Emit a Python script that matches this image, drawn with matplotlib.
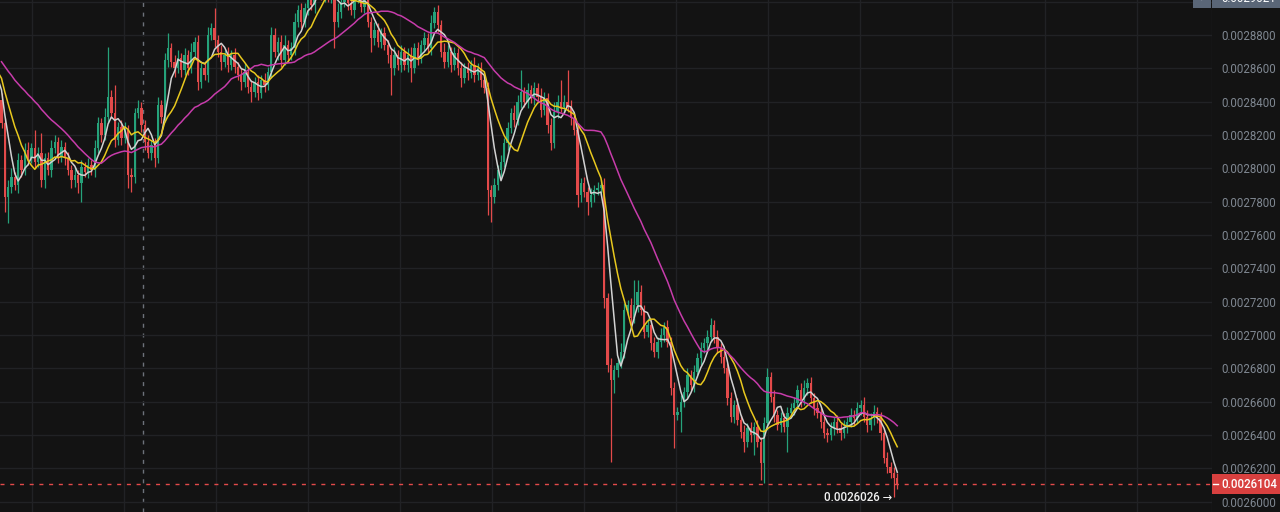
import numpy as np
import pandas as pd
import matplotlib
matplotlib.use("Agg")
import matplotlib.pyplot as plt
from matplotlib.patches import Rectangle
from matplotlib.lines import Line2D
from matplotlib.transforms import blended_transform_factory

plt.rcParams['font.family'] = ['Roboto', 'DejaVu Sans']

# All prices are listed in units of 0.0000001
UNIT = 1e-7

# closes before the first visible candle (only feed the moving averages)
prior_closes = [
    28680, 28740, 28700, 28760, 28720, 28660, 28700, 28750, 28690, 28720,
    28680, 28740, 28700, 28660, 28720, 28650, 28600, 28660, 28640, 28620,
    28650, 28600, 28640, 28580, 28580, 28580, 28520, 28570, 28410,
]

closes = [
    28270, 27830, 27890, 27950, 27900, 28050, 27990, 28110, 28060, 28120,
    28040, 28090, 27930, 28060, 27990, 28120, 28160, 28070, 28130, 28060,
    27990, 27930, 27960, 27910, 28010, 27980, 28020, 27990, 28120, 28270,
    28200, 28310, 28430, 28330, 28170, 28250, 28180, 28230, 27960, 27950,
    28330, 28360, 28260, 28160, 28090, 28140, 28060, 28380, 28310, 28650,
    28720, 28640, 28600, 28660, 28590, 28680, 28600, 28700, 28760, 28520,
    28600, 28560, 28800, 28840, 28770, 28700, 28640, 28680, 28620, 28680,
    28610, 28560, 28520, 28580, 28490, 28460, 28520, 28450, 28530, 28500,
    28580, 28800, 28700, 28760, 28650, 28740, 28680, 28720, 28880, 28950,
    28880, 28960, 29050, 28980, 29090, 29140, 29040, 29110, 29030, 29080,
    28880, 28940, 29000, 29060, 28990, 28950, 29030, 29060, 28970, 29010,
    28880, 28780, 28830, 28760, 28810, 28740, 28680, 28600, 28680, 28620,
    28700, 28620, 28680, 28600, 28720, 28660, 28740, 28780, 28720, 28870,
    28940, 28860, 28700, 28640, 28700, 28620, 28690, 28600, 28540, 28600,
    28570, 28620, 28560, 28600, 28530, 28480, 27870, 27830, 27900, 27990,
    28040, 28150, 28240, 28330, 28290, 28400, 28460, 28400, 28470, 28420,
    28480, 28430, 28350, 28420, 28260, 28150, 28340, 28400, 28370, 28400,
    28370, 28300, 28230, 27840, 27910, 27860, 27800, 27840, 27870, 27880,
    27900, 27220, 26820, 26730, 26790, 26830, 26900, 27150, 27180, 27100,
    27180, 27260, 27150, 27020, 27060, 26950, 26900, 26960, 27000, 27050,
    26960, 26680, 26520, 26540, 26600, 26660, 26760, 26700, 26780, 26860,
    26920, 26950, 26990, 27060, 26990, 26920, 26870, 26800, 26620, 26510,
    26580, 26490, 26420, 26360, 26440, 26400, 26450, 26360, 26230, 26470,
    26750, 26630, 26520, 26460, 26500, 26450, 26530, 26560, 26590, 26670,
    26610, 26680, 26710, 26620, 26560, 26530, 26480, 26410, 26400, 26440,
    26480, 26440, 26410, 26450, 26480, 26520, 26500, 26560, 26580, 26510,
    26460, 26500, 26540, 26500, 26410, 26260, 26210, 26170, 26140, 26104,
]

# wick length above / below each candle body
upper_wicks = [
    40, 30, 40, 50, 30, 40, 30, 40, 50, 30,
    110, 40, 120, 30, 40, 50, 40, 30, 40, 30,
    40, 30, 50, 30, 40, 30, 40, 30, 50, 40,
    30, 50, 300, 40, 170, 30, 40, 50, 30, 40,
    30, 50, 40, 30, 40, 30, 40, 50, 30, 40,
    90, 30, 40, 50, 30, 40, 30, 50, 30, 40,
    30, 40, 50, 30, 120, 30, 40, 30, 50, 30,
    40, 30, 40, 50, 30, 40, 30, 40, 30, 40,
    30, 50, 40, 30, 40, 60, 30, 40, 50, 30,
    40, 30, 50, 40, 30, 50, 40, 30, 40, 30,
    40, 50, 30, 40, 30, 50, 40, 30, 40, 30,
    40, 30, 50, 40, 30, 40, 30, 40, 50, 30,
    40, 30, 40, 50, 30, 40, 30, 40, 30, 50,
    30, 40, 30, 50, 40, 30, 40, 30, 40, 30,
    40, 30, 50, 30, 40, 30, 40, 30, 40, 30,
    40, 30, 40, 30, 50, 40, 130, 30, 40, 30,
    40, 30, 50, 40, 30, 40, 60, 40, 130, 40,
    190, 40, 30, 40, 30, 40, 30, 40, 30, 40,
    30, 40, 30, 40, 30, 40, 50, 40, 30, 40,
    150, 70, 40, 30, 40, 30, 40, 30, 40, 30,
    40, 30, 40, 30, 40, 30, 40, 30, 40, 30,
    40, 30, 40, 40, 30, 40, 30, 40, 30, 40,
    30, 40, 30, 40, 30, 40, 30, 40, 30, 40,
    50, 30, 40, 30, 40, 30, 40, 30, 40, 30,
    40, 50, 30, 40, 30, 40, 30, 40, 30, 40,
    30, 40, 30, 40, 30, 40, 30, 40, 30, 50,
    40, 30, 40, 30, 40, 30, 40, 30, 40, 30,
]
lower_wicks = [
    30, 90, 160, 40, 30, 50, 40, 30, 40, 30,
    40, 30, 40, 50, 30, 40, 30, 40, 30, 40,
    30, 50, 40, 60, 110, 30, 40, 30, 40, 30,
    40, 30, 40, 30, 40, 30, 40, 30, 80, 90,
    40, 30, 40, 50, 30, 40, 50, 30, 40, 30,
    40, 30, 50, 30, 40, 30, 40, 30, 40, 50,
    40, 30, 40, 30, 40, 30, 50, 30, 40, 30,
    40, 30, 50, 30, 40, 60, 30, 40, 30, 40,
    30, 40, 30, 50, 40, 30, 40, 30, 40, 30,
    40, 30, 40, 30, 50, 40, 30, 40, 30, 40,
    160, 30, 40, 30, 40, 30, 50, 40, 30, 40,
    30, 80, 40, 30, 40, 30, 50, 160, 40, 30,
    40, 30, 40, 80, 30, 40, 30, 40, 30, 40,
    30, 40, 30, 40, 30, 40, 30, 40, 50, 30,
    40, 30, 40, 30, 40, 30, 150, 150, 40, 30,
    40, 30, 40, 30, 40, 30, 40, 30, 40, 30,
    40, 30, 40, 30, 50, 40, 30, 40, 30, 40,
    30, 40, 30, 70, 40, 30, 80, 30, 40, 30,
    40, 60, 40, 490, 80, 40, 30, 40, 30, 40,
    30, 40, 30, 40, 30, 40, 30, 40, 30, 40,
    30, 40, 200, 30, 120, 30, 40, 30, 40, 30,
    40, 30, 40, 30, 40, 30, 40, 30, 40, 30,
    40, 30, 40, 60, 30, 40, 120, 30, 100, 120,
    40, 30, 40, 30, 40, 30, 150, 30, 40, 30,
    40, 30, 40, 30, 40, 30, 40, 30, 40, 30,
    40, 30, 40, 30, 40, 30, 40, 30, 40, 30,
    40, 30, 40, 30, 40, 30, 40, 30, 114, 30,
]

last_price = 26104
crosshair_price = 29021
tick_prices = list(range(26000, 28801, 200))
top_grid_price = 29000
ma_windows = [5, 10, 30]

# colours
BG = '#131313'
GRID = '#212225'
UP = '#25a27a'
DOWN = '#e34a4a'
MA_COLORS = ['#d2d2d2', '#e8c81e', '#c73cab']
TICK_TXT = '#7f8791'

# ---- derived series ----
c = np.array(closes, dtype=float)
o = np.concatenate([[prior_closes[-1]], c[:-1]])
hi = np.maximum(o, c) + np.array(upper_wicks)
lo = np.minimum(o, c) - np.array(lower_wicks)
x = np.arange(len(c))
is_up = c >= o
colors = np.where(is_up, UP, DOWN)

W, H = 1280, 512
PLOT_R = 1212          # right edge of the price pane (px)
STEP = 3.33            # candle spacing (px)
X0 = 1.5               # first candle centre (px)

fig = plt.figure(figsize=(W / 100, H / 100), dpi=100, facecolor=BG)
ax = fig.add_axes([0, 0, PLOT_R / W, 1])
ax.set_facecolor(BG)

x_left = -X0 / STEP
ax.set_xlim(x_left, x_left + PLOT_R / STEP)
ax.set_ylim(25938 * UNIT, 29010 * UNIT)

for s in ax.spines.values():
    s.set_visible(False)

# grid
grid_x = [(31.7 - X0) / STEP + k * 92.08 / STEP for k in range(13)]
ax.set_xticks(grid_x)
ax.tick_params(axis='x', length=0, labelbottom=False)
ax.yaxis.tick_right()
ax.set_yticks(np.array(tick_prices) * UNIT)
ax.set_yticklabels([f"{p * UNIT:.7f}" for p in tick_prices])
ax.tick_params(axis='y', length=0, pad=6.5, labelsize=8.3, labelcolor=TICK_TXT)
ax.grid(True, color=GRID, linewidth=1.0, zorder=0)
ax.axhline(top_grid_price * UNIT, color=GRID, linewidth=1.0, zorder=0)
ax.axvline(x_left + PLOT_R / STEP - 0.05, color=GRID, linewidth=1.0, zorder=0)

# crosshair
ax.axvline((143 - X0) / STEP, color='#6d727a', linewidth=1.0,
           dashes=(2.9, 4.1), zorder=1)

# candles
body_low = np.minimum(o, c) * UNIT
body_h = np.maximum(np.abs(c - o), 8) * UNIT
ax.vlines(x, lo * UNIT, hi * UNIT, colors=colors, linewidth=0.9, zorder=2)
ax.bar(x, body_h, bottom=body_low, width=0.7, color=colors, linewidth=0, zorder=2)

# moving averages
all_closes = pd.Series(np.concatenate([prior_closes, closes]) * UNIT)
x_all = np.arange(len(all_closes)) - len(prior_closes)
for win, col in zip(ma_windows, MA_COLORS):
    ma = all_closes.rolling(win).mean().to_numpy()
    ax.plot(x_all, ma, color=col, linewidth=1.1, zorder=3,
            solid_joinstyle='round')

# last-price line
ax.axhline(last_price * UNIT, color=DOWN, linewidth=1.0, dashes=(2.9, 4.1), zorder=4)

# lowest low marker
i_low = int(np.argmin(lo))
ax.text(i_low - 0.6, lo[i_low] * UNIT, f"{lo[i_low] * UNIT:.7f} →",
        ha='right', va='center', color='#f2f2f2', fontsize=8.3,
        fontweight='medium', zorder=5)

# price tags on the axis
bt = blended_transform_factory(fig.transFigure, ax.transData)
half = 10 * 6 * UNIT  # 10 px in price units
fig.add_artist(Rectangle((1211.7 / W, last_price * UNIT - half), (W - 1211.7) / W, 2 * half,
                         transform=bt, facecolor='#d8403f', edgecolor='none', zorder=6))
fig.add_artist(Line2D([1213 / W, 1218 / W], [last_price * UNIT] * 2, transform=bt,
                      color='white', linewidth=1.0, zorder=7))
fig.text(1221 / W, last_price * UNIT, f"{last_price * UNIT:.7f}", transform=bt,
         ha='left', va='center', color='white', fontsize=8.3, fontweight='medium', zorder=7)

fig.add_artist(Rectangle((1212 / W, crosshair_price * UNIT - half), (W - 1212) / W, 2 * half,
                         transform=bt, facecolor='#5a6677', edgecolor='none', zorder=6))
fig.add_artist(Rectangle((1193 / W, crosshair_price * UNIT - half), 17.5 / W, 2 * half,
                         transform=bt, facecolor='#5a6677', edgecolor='none', zorder=6))
fig.text(1221 / W, crosshair_price * UNIT, f"{crosshair_price * UNIT:.7f}", transform=bt,
         ha='left', va='center', color='white', fontsize=8.3, zorder=7)
fig.text(1201.5 / W, crosshair_price * UNIT, "+", transform=bt,
         ha='center', va='center', color='white', fontsize=9, zorder=7)

fig.savefig("out.png", dpi=100, facecolor=BG)
